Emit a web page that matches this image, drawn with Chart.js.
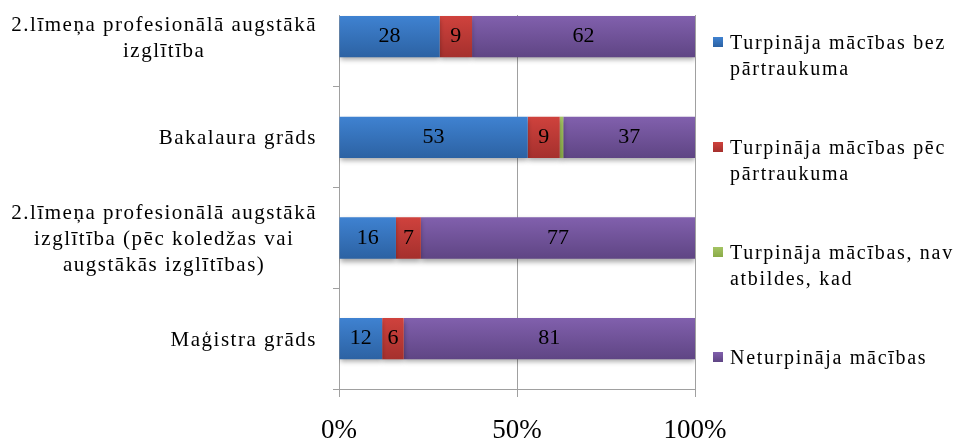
<!DOCTYPE html>
<html>
<head>
<meta charset="utf-8">
<script src="https://cdn.jsdelivr.net/npm/chart.js@4"></script>
<style>
  html, body { margin: 0; padding: 0; background: #fff; }
  #wrap { position: relative; width: 960px; height: 438px; overflow: hidden; }
  #chart { position: absolute; left: 0; top: 0; }
  #legend {
    position: absolute; left: 713px; top: 29px;
    font-family: "Liberation Serif", serif; font-size: 20px; line-height: 26px;
    letter-spacing: 1.7px; color: #000; white-space: pre-line;
  }
  #legend .item { position: relative; height: 105px; padding-left: 17px; }
  #legend .box { position: absolute; left: 0; top: 8px; width: 10px; height: 10px; }
</style>
</head>
<body>
<div id="wrap">
  <canvas id="chart" width="960" height="438"></canvas>
  <div id="legend"></div>
</div>
<script>
const categories = [
  ['2.līmeņa profesionālā augstākā', 'izglītība'],
  ['Bakalaura grāds'],
  ['2.līmeņa profesionālā augstākā', 'izglītība (pēc koledžas vai', 'augstākās izglītības)'],
  ['Maģistra grāds']
];
const seriesNames = [
  'Turpināja mācības bez\npārtraukuma',
  'Turpināja mācības pēc\npārtraukuma',
  'Turpināja mācības, nav\natbildes, kad',
  'Neturpināja mācības'
];
const withoutBreak = [28, 53, 16, 12];
const afterBreak = [9, 9, 7, 6];
const noAnswer = [0, 1, 0, 0];
const notContinued = [62, 37, 77, 81];
const xTicks = [0, 50, 100];

// top / bottom shades of each series
const shades = [
  ['#3f82d1', '#2c62a3'],
  ['#cf423d', '#a5302d'],
  ['#a4c463', '#8aab48'],
  ['#8160ad', '#5f4584']
];

const series = [withoutBreak, afterBreak, noAnswer, notContinued];
const rowTotals = categories.map((_, i) => series.reduce((s, arr) => s + arr[i], 0));
const BAR_PCT = 0.41;

function barFill(top, bottom) {
  return ctx => {
    const chart = ctx.chart;
    const y = chart.scales.y;
    if (!chart.chartArea || !y) return bottom;
    const c = y.getPixelForValue(ctx.dataIndex);
    const half = Math.abs(y.getPixelForValue(1) - y.getPixelForValue(0)) * BAR_PCT / 2;
    const g = chart.ctx.createLinearGradient(0, c - half, 0, c + half);
    g.addColorStop(0, top);
    g.addColorStop(1, bottom);
    return g;
  };
}

const datasets = series.map((values, s) => ({
  label: seriesNames[s],
  rawValues: values,
  data: values.map((v, i) => ({ x: v / rowTotals[i] * 100, y: i })),
  backgroundColor: barFill(shades[s][0], shades[s][1]),
  borderWidth: 0,
  barPercentage: BAR_PCT,
  categoryPercentage: 1
}));

const barShadow = {
  id: 'barShadow',
  beforeDatasetsDraw(chart) {
    const c = chart.ctx;
    c.save();
    c.shadowColor = 'rgba(0,0,0,0.35)';
    c.shadowBlur = 5;
    c.shadowOffsetY = 3;
  },
  afterDatasetsDraw(chart) {
    chart.ctx.restore();
  }
};

const valueLabels = {
  id: 'valueLabels',
  afterDatasetsDraw(chart) {
    const c = chart.ctx;
    c.save();
    c.font = '22px "Liberation Serif"';
    c.fillStyle = '#000';
    c.textAlign = 'center';
    c.textBaseline = 'middle';
    chart.data.datasets.forEach((ds, di) => {
      chart.getDatasetMeta(di).data.forEach((bar, i) => {
        const v = ds.rawValues[i];
        if (v < 2) return;
        c.fillText(String(v), (bar.x + bar.base) / 2, bar.y);
      });
    });
    c.restore();
  }
};

// category names, each block centred on itself and right-aligned to the axis
const categoryLabels = {
  id: 'categoryLabels',
  afterDraw(chart) {
    const c = chart.ctx;
    const y = chart.scales.y;
    c.save();
    c.font = '21px "Liberation Serif"';
    c.letterSpacing = '1.5px';
    c.fillStyle = '#000';
    c.textAlign = 'center';
    c.textBaseline = 'alphabetic';
    categories.forEach((lines, i) => {
      const yc = y.getPixelForValue(i);
      const widest = Math.max(...lines.map(l => c.measureText(l).width));
      const cx = y.right - 22 - widest / 2;
      lines.forEach((line, k) => {
        c.fillText(line, cx, yc + 7 + (k - (lines.length - 1) / 2) * 26);
      });
    });
    c.restore();
  }
};

const chart = new Chart(document.getElementById('chart'), {
  type: 'bar',
  data: { datasets },
  options: {
    indexAxis: 'y',
    responsive: false,
    animation: false,
    layout: { padding: { top: 15, right: 265, left: 0, bottom: 0 } },
    plugins: { legend: { display: false }, tooltip: { enabled: false } },
    scales: {
      x: {
        stacked: true,
        min: 0,
        max: 100,
        afterBuildTicks: s => { s.ticks = xTicks.map(v => ({ value: v })); },
        afterFit: s => { s.height = 49; },
        ticks: {
          callback: v => v + '%',
          color: '#000',
          padding: 18,
          maxRotation: 0,
          font: { family: 'Liberation Serif', size: 27 }
        },
        grid: { color: '#a0a0a0', tickLength: 8 },
        border: { color: '#a0a0a0' }
      },
      y: {
        type: 'linear',
        reverse: true,
        stacked: true,
        offset: false,
        bounds: 'data',
        min: -0.215,
        max: 3.5,
        afterBuildTicks: s => { s.ticks = categories.map((_, i) => ({ value: i })); },
        afterFit: s => { s.width = 339; },
        ticks: { display: false },
        grid: { offset: true, drawOnChartArea: false, color: '#a0a0a0', tickLength: 6 },
        border: { color: '#a0a0a0' }
      }
    }
  },
  plugins: [barShadow, valueLabels, categoryLabels]
});

// legend built from the datasets
const legend = document.getElementById('legend');
chart.data.datasets.forEach((ds, s) => {
  const item = document.createElement('div');
  item.className = 'item';
  const box = document.createElement('span');
  box.className = 'box';
  box.style.background = 'linear-gradient(' + shades[s][0] + ',' + shades[s][1] + ')';
  item.appendChild(box);
  item.appendChild(document.createTextNode(ds.label));
  legend.appendChild(item);
});
</script>
</body>
</html>
